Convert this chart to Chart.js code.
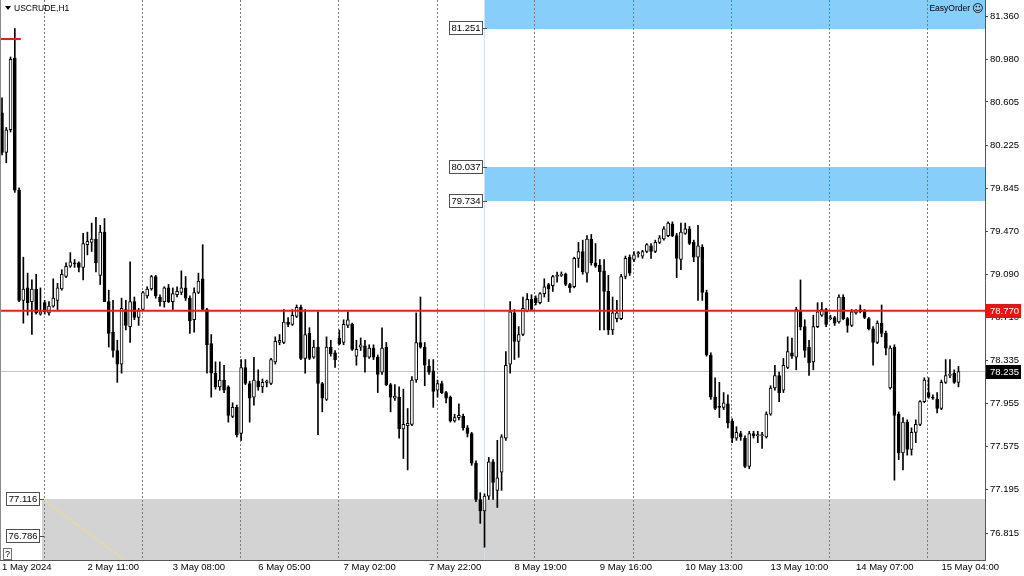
<!DOCTYPE html>
<html>
<head>
<meta charset="utf-8">
<script src="https://cdn.jsdelivr.net/npm/chart.js@4.4.1/dist/chart.umd.min.js"></script>
<style>
html,body{margin:0;padding:0;background:#ffffff;width:1024px;height:576px;overflow:hidden}
#c{display:block}
</style>
</head>
<body>
<canvas id="c" width="1024" height="576"></canvas>
<script>
// ---------- DATA (USCRUDE, H1) ----------
const symbolTitle = 'USCRUDE,H1';
const panelName = 'EasyOrder';

const openP = [
80.51,80.16,80.36,80.99,79.83,78.86,78.97,78.85,78.96,78.74,
78.84,78.75,78.81,78.86,78.96,79.07,79.16,79.19,79.19,79.15,
79.35,79.37,79.40,79.08,79.46,78.85,78.58,78.42,78.30,78.78,
78.63,78.85,78.71,78.78,78.90,78.96,79.07,78.89,78.85,78.97,
78.85,78.91,78.93,78.97,78.88,78.69,78.93,79.05,78.78,78.48,
78.22,78.10,78.16,78.10,77.84,77.92,77.69,78.27,78.13,78.01,
78.15,78.10,78.14,78.13,78.32,78.49,78.49,78.67,78.65,78.72,
78.80,78.35,78.57,78.36,78.45,78.13,77.99,78.45,78.40,78.53,
78.49,78.64,78.65,78.37,78.45,78.46,78.36,78.44,78.36,78.23,
78.45,78.12,78.00,78.01,77.73,77.76,77.77,78.16,78.49,78.45,
78.28,78.24,78.07,78.13,78.05,78.01,77.80,77.83,77.84,77.74,
77.69,77.43,77.11,77.01,77.14,77.44,77.19,77.35,77.65,78.30,
78.75,78.50,78.56,78.77,78.87,78.88,78.84,78.92,79.00,78.99,
79.07,79.08,79.09,79.00,78.98,79.23,79.29,79.10,79.40,79.19,
79.17,79.12,78.94,78.60,78.70,78.70,79.07,79.24,79.22,79.27,
79.25,79.29,79.34,79.29,79.37,79.40,79.43,79.53,79.43,79.22,
79.45,79.49,79.37,79.24,79.33,78.93,78.38,78.01,77.93,77.92,
77.95,77.80,77.65,77.69,77.65,77.40,77.69,77.67,77.67,77.66,
77.86,78.09,78.20,78.07,78.27,78.40,78.36,78.77,78.63,78.45,
78.32,78.63,78.73,78.78,78.70,78.71,78.67,78.89,78.70,78.64,
78.75,78.76,78.77,78.70,78.61,78.49,78.66,78.57,78.09,78.45,
77.86,77.52,77.79,77.55,77.70,77.77,77.97,78.05,78.01,77.99,
77.91,78.14,78.20,78.22,78.14];

const highP = [
80.64,80.38,81.00,81.25,79.85,79.24,79.10,79.04,79.09,78.97,
78.86,78.85,79.05,79.01,79.13,79.19,79.28,79.22,79.20,79.45,
79.46,79.54,79.59,79.52,79.58,78.95,78.86,78.51,78.88,78.86,
79.20,78.89,78.79,78.94,78.98,79.08,79.08,78.91,78.98,79.00,
78.97,78.98,79.12,79.07,78.90,78.97,79.10,79.35,78.79,78.56,
78.32,78.32,78.29,78.11,77.96,77.94,78.34,78.34,78.15,78.36,
78.25,78.17,78.16,78.35,78.54,78.56,78.78,78.71,78.78,78.82,
78.82,78.78,78.62,78.51,78.76,78.14,78.54,78.51,78.42,78.60,
78.69,78.76,78.66,78.51,78.53,78.51,78.47,78.47,78.38,78.62,
78.49,78.13,78.12,78.10,78.08,77.91,78.19,78.75,78.89,78.49,
78.34,78.34,78.16,78.15,78.06,78.02,77.86,77.95,77.86,77.76,
77.70,77.45,77.17,77.16,77.48,77.46,77.63,77.68,78.41,78.85,
78.78,78.63,78.89,78.92,78.91,78.90,78.93,79.05,79.01,79.08,
79.11,79.11,79.10,79.01,79.24,79.37,79.39,79.43,79.44,79.36,
79.22,79.22,79.08,78.89,78.86,79.09,79.25,79.26,79.29,79.29,
79.30,79.36,79.36,79.39,79.43,79.51,79.55,79.55,79.45,79.54,
79.54,79.51,79.39,79.52,79.35,78.95,78.40,78.18,78.14,78.05,
78.03,77.82,77.75,77.71,77.67,77.71,77.71,77.71,77.70,77.88,
78.11,78.29,78.23,78.35,78.54,78.53,78.80,79.04,78.69,78.51,
78.73,78.84,78.84,78.79,78.73,78.72,78.91,78.91,78.71,78.78,
78.78,78.82,78.78,78.71,78.63,78.68,78.82,78.59,78.46,78.47,
77.88,77.83,77.81,77.74,77.81,77.98,78.18,78.18,78.03,78.05,
78.16,78.34,78.34,78.25,78.28];

const lowP = [
80.14,80.07,80.34,79.81,78.85,78.66,78.73,78.56,78.74,78.73,
78.74,78.73,78.80,78.78,78.95,79.06,79.15,79.15,79.11,79.04,
79.26,79.29,79.11,79.00,78.85,78.45,78.36,78.14,78.22,78.60,
78.49,78.69,78.64,78.77,78.88,78.95,78.88,78.81,78.80,78.84,
78.78,78.89,78.91,78.86,78.57,78.58,78.92,78.77,78.22,78.01,
78.08,78.07,78.05,77.79,77.83,77.66,77.63,78.12,77.79,77.94,
78.07,78.05,78.10,78.12,78.30,78.47,78.48,78.63,78.64,78.71,
78.34,78.22,78.34,78.35,77.68,77.88,77.98,78.37,78.27,78.47,
78.47,78.62,78.42,78.29,78.42,78.23,78.35,78.34,78.05,78.21,
78.11,77.88,77.98,77.65,77.47,77.37,77.76,78.14,78.44,78.11,
78.21,77.92,78.01,78.04,77.96,77.79,77.79,77.81,77.72,77.66,
77.41,77.09,76.90,76.69,77.11,77.11,77.04,77.19,77.63,78.22,
78.34,78.36,78.55,78.76,78.77,78.82,78.83,78.89,78.85,78.94,
79.02,79.07,78.99,78.93,78.97,79.15,79.09,79.02,79.17,79.15,
78.60,78.60,78.56,78.56,78.67,78.69,79.05,79.08,79.20,79.24,
79.23,79.28,79.23,79.28,79.36,79.39,79.42,79.42,79.06,79.13,
79.44,79.35,79.20,78.86,78.86,78.37,77.99,77.90,77.83,77.90,
77.74,77.61,77.63,77.63,77.39,77.38,77.65,77.61,77.56,77.65,
77.85,78.07,77.97,78.05,78.26,78.35,78.25,78.60,78.36,78.20,
78.25,78.62,78.72,78.63,78.69,78.64,78.66,78.69,78.58,78.63,
78.74,78.75,78.70,78.60,78.29,78.48,78.54,78.38,78.08,77.28,
77.46,77.37,77.50,77.50,77.61,77.76,77.96,78.00,77.99,77.87,
77.90,78.13,78.18,78.13,78.10];

const closeP = [
80.16,80.36,80.98,79.83,78.86,78.96,78.84,78.96,78.75,78.76,
78.76,78.81,78.88,78.97,79.09,79.16,79.20,79.18,79.15,79.36,
79.38,79.40,79.19,79.46,78.85,78.57,78.42,78.30,78.79,78.64,
78.85,78.71,78.77,78.93,78.96,79.07,78.90,78.85,78.97,78.85,
78.92,78.94,78.97,78.88,78.68,78.93,79.03,78.78,78.47,78.22,
78.10,78.16,78.07,77.85,77.92,77.68,78.27,78.13,78.00,78.16,
78.10,78.14,78.15,78.34,78.50,78.51,78.67,78.65,78.73,78.80,
78.35,78.56,78.35,78.45,78.13,78.00,78.45,78.39,78.34,78.48,
78.65,78.69,78.43,78.43,78.47,78.36,78.44,78.36,78.21,78.44,
78.12,78.01,78.02,77.73,77.77,77.78,78.16,78.49,78.45,78.29,
78.23,78.06,78.13,78.05,78.00,77.80,77.83,77.85,77.74,77.69,
77.43,77.11,77.01,77.14,77.44,77.26,77.30,77.66,78.29,78.76,
78.50,78.56,78.79,78.87,78.78,78.84,78.92,78.98,78.96,79.07,
79.08,79.09,79.00,78.97,79.23,79.29,79.11,79.40,79.19,79.16,
79.11,78.94,78.60,78.75,78.75,79.07,79.23,79.10,79.26,79.28,
79.29,79.35,79.29,79.37,79.41,79.49,79.54,79.43,79.23,79.46,
79.49,79.36,79.24,79.34,78.93,78.38,78.01,77.91,77.92,77.96,
77.78,77.65,77.70,77.66,77.40,77.69,77.67,77.68,77.68,77.86,
78.09,78.20,78.05,78.29,78.41,78.37,78.78,78.63,78.42,78.31,
78.63,78.76,78.78,78.65,78.71,78.66,78.89,78.70,78.64,78.76,
78.77,78.78,78.71,78.61,78.49,78.66,78.57,78.44,78.44,77.85,
77.52,77.79,77.55,77.70,77.77,77.97,78.16,78.01,78.00,77.91,
78.14,78.20,78.21,78.14,78.235];

const timeLabels = ['1 May 2024','2 May 11:00','3 May 08:00','6 May 05:00','7 May 02:00','7 May 22:00',
                    '8 May 19:00','9 May 16:00','10 May 13:00','13 May 10:00','14 May 07:00','15 May 04:00'];
const timeLabelBars = [0,20,40,60,80,100,120,140,160,180,200,220];
const gridBars = [9.9,32.9,55.9,78.9,101.9,124.8,147.9,170.9,193.8,216.8];
const priceTicks = [81.360,80.980,80.605,80.225,79.845,79.470,79.090,78.710,78.335,77.955,77.575,77.195,76.815];

const resistanceLevel = 78.770;
const bidPrice = 78.235;
const highMarkPrice = 81.158;
const highMarkBars = [-0.47, 4.4];

const blueZoneStartBar = 113;
const blueZoneTops = [81.60, 80.037];
const blueZoneBottoms = [81.251, 79.734];
const grayZoneStartBar = 9.4;
const grayZoneTop = 77.116;
const grayZoneBottom = 76.40;

const zoneLabelPrices = [81.251, 80.037, 79.734, 77.116, 76.786];
const zoneLabelBars = [113, 113, 113, 9.4, 9.4];

const trendBars = [9.4, 35];
const trendPrices = [77.116, 76.407];

// visible window
const xMin = -0.47, xMax = 230.21;
const yMin = 76.578, yMax = 81.501;

// ---------- CHART ----------
const FONT = 'Liberation Sans';
Chart.defaults.font.family = FONT;
Chart.defaults.font.size = 9.5;
Chart.defaults.color = '#000';

const idx = openP.map((_, i) => i);
const wickData = idx.map(i => ({x: i, y: [lowP[i], highP[i]]}));
const bodyData = idx.map(i => ({x: i, y: [openP[i], closeP[i]]}));
const xy = (bars, prices) => bars.map((b, k) => ({x: b, y: prices[k]}));

const overlay = {
  id: 'overlay',
  beforeDraw(chart) {
    const {ctx, chartArea: a, scales: {x, y}} = chart;
    ctx.save();
    ctx.beginPath(); ctx.rect(a.left, a.top, a.right - a.left, a.bottom - a.top); ctx.clip();
    const zone = (bar, p1, p2, col) => {
      const x0 = Math.round(x.getPixelForValue(bar));
      const y1 = y.getPixelForValue(p1), y2 = y.getPixelForValue(p2);
      ctx.fillStyle = col;
      ctx.fillRect(x0, Math.round(Math.min(y1, y2)), a.right - x0, Math.round(Math.abs(y2 - y1)));
    };
    zone(grayZoneStartBar, grayZoneTop, grayZoneBottom, '#d3d3d3');
    blueZoneTops.forEach((t, k) => zone(blueZoneStartBar, t, blueZoneBottoms[k], '#87cefa'));
    ctx.restore();
  },
  afterDatasetsDraw(chart) {
    const {ctx, chartArea: a, scales: {x, y}} = chart;
    ctx.save();
    // frame left
    ctx.strokeStyle = '#8a8a8a'; ctx.lineWidth = 1;
    ctx.beginPath(); ctx.moveTo(0.5, a.top); ctx.lineTo(0.5, a.bottom); ctx.stroke();

    // zone price labels
    ctx.font = '9.5px ' + FONT;
    ctx.textBaseline = 'middle';
    zoneLabelPrices.forEach((p, k) => {
      const xr = Math.round(x.getPixelForValue(zoneLabelBars[k])) - 2;
      const yc = Math.round(y.getPixelForValue(p));
      const w = 34, h = 14;
      ctx.strokeStyle = '#505050';
      ctx.beginPath(); ctx.moveTo(xr, yc + 0.5); ctx.lineTo(xr + 4, yc + 0.5); ctx.stroke();
      ctx.fillStyle = '#ffffff'; ctx.fillRect(xr - w, yc - 7, w, h);
      ctx.strokeRect(xr - w + 0.5, yc - 7 + 0.5, w - 1, h - 1);
      ctx.fillStyle = '#000'; ctx.textAlign = 'center';
      ctx.fillText(p.toFixed(3), xr - w / 2, yc + 0.5);
    });

    // title
    ctx.fillStyle = '#000';
    ctx.beginPath(); ctx.moveTo(5, 6); ctx.lineTo(11, 6); ctx.lineTo(8, 10); ctx.closePath(); ctx.fill();
    ctx.font = '8.5px ' + FONT; ctx.textAlign = 'left';
    ctx.fillText(symbolTitle, 14, 8.5);

    // panel name
    ctx.textAlign = 'right';
    ctx.fillText(panelName, 970, 9);
    ctx.font = '11px DejaVu Sans'; ctx.textAlign = 'left';
    ctx.fillText('\u263A', 972, 9);

    // help box
    ctx.fillStyle = '#ffffff'; ctx.fillRect(3, 548, 9, 12);
    ctx.strokeStyle = '#707070'; ctx.strokeRect(3.5, 548.5, 8, 11);
    ctx.fillStyle = '#000'; ctx.font = '9px ' + FONT; ctx.textAlign = 'center';
    ctx.fillText('?', 7.5, 554.5);

    // axis price boxes
    const axisBox = (p, bg) => {
      const yc = Math.round(y.getPixelForValue(p));
      ctx.fillStyle = bg; ctx.fillRect(a.right + 1, yc - 7, 35, 14);
      ctx.fillStyle = '#ffffff'; ctx.font = '9.5px ' + FONT; ctx.textAlign = 'left';
      ctx.fillText(p.toFixed(3), a.right + 5, yc + 0.5);
    };
    axisBox(resistanceLevel, '#ee1111');
    axisBox(bidPrice, '#000000');
    ctx.restore();
  }
};

new Chart(document.getElementById('c'), {
  type: 'bar',
  data: {
    datasets: [
      {type: 'line', label: 'resistance', data: xy([xMin, xMax], [resistanceLevel, resistanceLevel]),
       borderColor: '#ee1c1c', borderWidth: 2, pointRadius: 0, order: -2},
      {type: 'line', label: 'highMark', data: xy(highMarkBars, [highMarkPrice, highMarkPrice]),
       borderColor: '#ee1c1c', borderWidth: 2, pointRadius: 0, order: -2},
      {label: 'bodies', data: bodyData,
       backgroundColor: c => (closeP[c.dataIndex] >= openP[c.dataIndex] ? '#ffffff' : '#000000'),
       borderColor: '#000000', borderWidth: 1, borderSkipped: false,
       barThickness: 3, minBarLength: 1, grouped: false, order: 0},
      {label: 'wicks', data: wickData, backgroundColor: '#000000', borderWidth: 0,
       barThickness: 1, grouped: false, order: 1},
      {type: 'line', label: 'trend', data: xy(trendBars, trendPrices),
       borderColor: '#e6d8a6', borderWidth: 1.5, pointRadius: 0, order: 2},
      {type: 'line', label: 'bid', data: xy([xMin, xMax], [bidPrice, bidPrice]),
       borderColor: '#c4c4c4', borderWidth: 1, pointRadius: 0, order: 3},
      {type: 'line', label: 'zoneStart', data: xy([blueZoneStartBar, blueZoneStartBar], [yMin, yMax]),
       borderColor: '#cce2f3', borderWidth: 1, pointRadius: 0, order: 3}
    ]
  },
  options: {
    responsive: false, animation: false, devicePixelRatio: 1, events: [],
    layout: {padding: 0},
    plugins: {legend: {display: false}, tooltip: {enabled: false}, title: {display: false}},
    scales: {
      x: {
        type: 'linear', position: 'bottom', min: xMin, max: xMax, offset: false,
        afterBuildTicks: s => { s.ticks = [...gridBars, ...timeLabelBars].sort((p, q) => p - q).map(v => ({value: v})); },
        afterFit: s => { s.height = 16; s.paddingLeft = 0; s.paddingRight = 0; },
        grid: {offset: false, drawTicks: false, lineWidth: 1,
               color: c => (c.tick && gridBars.includes(c.tick.value)) ? '#7a7a7a' : 'rgba(0,0,0,0)'},
        border: {display: true, color: '#555555', width: 1, dash: [2, 2]},
        ticks: {autoSkip: false, maxRotation: 0, minRotation: 0, align: 'start', padding: 2,
                color: '#000', font: {size: 9.5},
                callback: v => { const k = timeLabelBars.indexOf(v); return k >= 0 ? timeLabels[k] : ''; }}
      },
      y: {
        type: 'linear', position: 'right', min: yMin, max: yMax, beginAtZero: false,
        afterBuildTicks: s => { s.ticks = priceTicks.map(v => ({value: v})); },
        afterFit: s => { s.width = 39; s.paddingTop = 0; s.paddingBottom = 0; },
        grid: {drawOnChartArea: false, drawTicks: true, tickLength: 3, color: '#444444'},
        border: {display: true, color: '#555555'},
        ticks: {padding: 2, color: '#000', font: {size: 9.5}, callback: v => Number(v).toFixed(3)}
      }
    }
  },
  plugins: [overlay]
});
</script>
</body>
</html>
